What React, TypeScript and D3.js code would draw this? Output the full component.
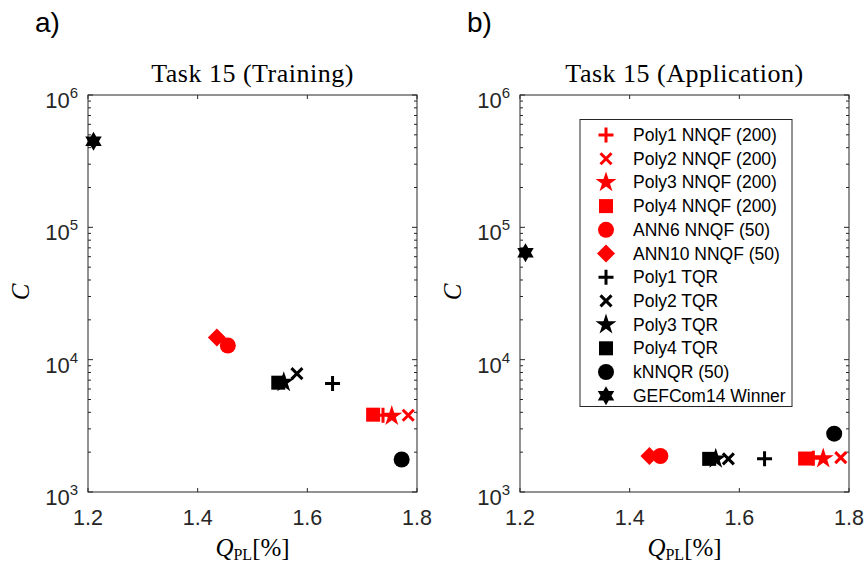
import React from "react";
import * as d3 from "d3";

// ---------- data ----------
const methods = [
  "Poly1 NNQF (200)",
  "Poly2 NNQF (200)",
  "Poly3 NNQF (200)",
  "Poly4 NNQF (200)",
  "ANN6 NNQF (50)",
  "ANN10 NNQF (50)",
  "Poly1 TQR",
  "Poly2 TQR",
  "Poly3 TQR",
  "Poly4 TQR",
  "kNNQR (50)",
  "GEFCom14 Winner",
];
const markerShapes = [
  "plus", "cross", "star", "square", "circle", "diamond",
  "plus", "cross", "star", "square", "circle", "hexagram",
];
const markerColors = [
  "#ff0000", "#ff0000", "#ff0000", "#ff0000", "#ff0000", "#ff0000",
  "#000000", "#000000", "#000000", "#000000", "#000000", "#000000",
];
const trainingQ = [1.738, 1.784, 1.754, 1.72, 1.455, 1.435, 1.646, 1.581, 1.557, 1.547, 1.772, 1.21];
const trainingC = [3800, 3800, 3750, 3840, 12800, 14700, 6600, 7850, 6750, 6700, 1760, 448000];
const applicationQ = [1.735, 1.785, 1.753, 1.72, 1.456, 1.436, 1.646, 1.58, 1.557, 1.545, 1.773, 1.21];
const applicationC = [1800, 1820, 1790, 1790, 1870, 1870, 1780, 1780, 1780, 1780, 2760, 64300];

const xTickValues = [1.2, 1.4, 1.6, 1.8];
const yTickExponents = [3, 4, 5, 6];
const panelTitles = ["Task 15 (Training)", "Task 15 (Application)"];
const panelLetters = ["a)", "b)"];

// ---------- layout ----------
const W = 866;
const H = 566;
const TOP = 95;
const BOTTOM = 492;
const PANEL_LEFT = [88, 520];
const PANEL_W = 329;
const AX = "#262626";
const SANS = "'Liberation Sans', Arial, Helvetica, sans-serif";
const SERIF = "'Liberation Serif', 'Times New Roman', serif";

function starPath(r: number, n: number, inner: number) {
  const pts: [number, number][] = [];
  for (let i = 0; i < 2 * n; i++) {
    const a = -Math.PI / 2 + (i * Math.PI) / n;
    const rr = i % 2 === 0 ? r : r * inner;
    pts.push([rr * Math.cos(a), rr * Math.sin(a)]);
  }
  return "M" + pts.map((p) => p[0].toFixed(2) + "," + p[1].toFixed(2)).join("L") + "Z";
}

function Marker({ shape, color, x, y }: { shape: string; color: string; x: number; y: number }) {
  const t = `translate(${x},${y})`;
  switch (shape) {
    case "plus": {
      const a = 7.5;
      return (
        <path transform={t} d={`M${-a},0H${a}M0,${-a}V${a}`} stroke={color} strokeWidth={3} fill="none" />
      );
    }
    case "cross": {
      const a = 5.5;
      return (
        <path transform={t} d={`M${-a},${-a}L${a},${a}M${-a},${a}L${a},${-a}`} stroke={color} strokeWidth={3} fill="none" />
      );
    }
    case "star":
      return <path transform={t} d={starPath(11, 5, 0.382)} fill={color} />;
    case "hexagram":
      return <path transform={t} d={starPath(9.5, 6, 0.577)} fill={color} />;
    case "square":
      return <rect transform={t} x={-7} y={-7} width={14} height={14} fill={color} />;
    case "circle":
      return <circle transform={t} r={8} fill={color} />;
    case "diamond":
      return <path transform={t} d="M0,-9L9,0L0,9L-9,0Z" fill={color} />;
    default:
      return null;
  }
}

function Panel({ idx, qs, cs }: { idx: number; qs: number[]; cs: number[] }) {
  const left = PANEL_LEFT[idx];
  const right = left + PANEL_W;
  const x = d3.scaleLinear().domain([1.2, 1.8]).range([left, right]);
  const y = d3.scaleLog().domain([1e3, 1e6]).range([BOTTOM, TOP]);
  const minors: number[] = [];
  for (let e = 3; e < 6; e++) for (let m = 2; m <= 9; m++) minors.push(m * Math.pow(10, e));
  const cx = (left + right) / 2;
  return (
    <g>
      {/* panel letter */}
      <text x={left - 53} y={32} fontFamily={SANS} fontSize={28} fill="#000">
        {panelLetters[idx]}
      </text>
      {/* title */}
      <text x={cx} y={82} textAnchor="middle" fontFamily={SERIF} fontSize={26} letterSpacing={0.5} fill="#000">
        {panelTitles[idx]}
      </text>
      {/* box */}
      <rect x={left} y={TOP} width={PANEL_W} height={BOTTOM - TOP} fill="#fff" stroke={AX} strokeWidth={1} />
      {/* x ticks */}
      {xTickValues.map((v) => (
        <g key={"xt" + v}>
          <line x1={x(v)} x2={x(v)} y1={BOTTOM} y2={BOTTOM - 4} stroke={AX} />
          <line x1={x(v)} x2={x(v)} y1={TOP} y2={TOP + 4} stroke={AX} />
          <text x={x(v)} y={BOTTOM + 33} textAnchor="middle" fontFamily={SANS} fontSize={21.5} fill={AX}>
            {v.toFixed(1)}
          </text>
        </g>
      ))}
      {/* y major ticks */}
      {yTickExponents.map((e) => {
        const yy = y(Math.pow(10, e));
        return (
          <g key={"yt" + e}>
            <line x1={left} x2={left + 5} y1={yy} y2={yy} stroke={AX} />
            <line x1={right} x2={right - 5} y1={yy} y2={yy} stroke={AX} />
            <text x={left - 10} y={yy + 13} textAnchor="end" fontFamily={SANS} fontSize={22} fill={AX}>
              10
              <tspan dy={-10} fontSize={15}>
                {e}
              </tspan>
            </text>
          </g>
        );
      })}
      {/* y minor ticks */}
      {minors.map((v) => (
        <g key={"ym" + v}>
          <line x1={left} x2={left + 3} y1={y(v)} y2={y(v)} stroke={AX} />
          <line x1={right} x2={right - 3} y1={y(v)} y2={y(v)} stroke={AX} />
        </g>
      ))}
      {/* axis labels */}
      <text
        transform={`translate(${left - 59},${292}) rotate(-90)`}
        textAnchor="middle"
        fontFamily={SERIF}
        fontStyle="italic"
        fontSize={25}
        fill="#000"
      >
        C
      </text>
      <text x={cx} y={556} textAnchor="middle" fontFamily={SERIF} fontSize={25} fill="#000">
        <tspan fontStyle="italic">Q</tspan>
        <tspan fontSize={16} dy={4}>PL</tspan>
        <tspan dy={-4}>[%]</tspan>
      </text>
      {/* markers */}
      {qs.map((q, i) => (
        <Marker key={"m" + i} shape={markerShapes[i]} color={markerColors[i]} x={x(q)} y={y(cs[i])} />
      ))}
    </g>
  );
}

function Legend() {
  const lx = 580;
  const ly = 119.5;
  const lw = 212;
  const lh = 287;
  const rowH = 23.7;
  const first = 135;
  return (
    <g>
      <rect x={lx} y={ly} width={lw} height={lh} fill="#fff" stroke={AX} strokeWidth={1} />
      {methods.map((m, i) => (
        <g key={m}>
          <Marker shape={markerShapes[i]} color={markerColors[i]} x={606} y={first + i * rowH} />
          <text x={633} y={first + i * rowH + 6} fontFamily={SANS} fontSize={17.5} fill="#000">
            {m}
          </text>
        </g>
      ))}
    </g>
  );
}

export default function App() {
  return (
    <svg
      width={W}
      height={H}
      viewBox={`0 0 ${W} ${H}`}
      style={{ position: "absolute", left: 0, top: 0, background: "#fff" }}
    >
      <rect width={W} height={H} fill="#fff" />
      <Panel idx={0} qs={trainingQ} cs={trainingC} />
      <Panel idx={1} qs={applicationQ} cs={applicationC} />
      <Legend />
    </svg>
  );
}
